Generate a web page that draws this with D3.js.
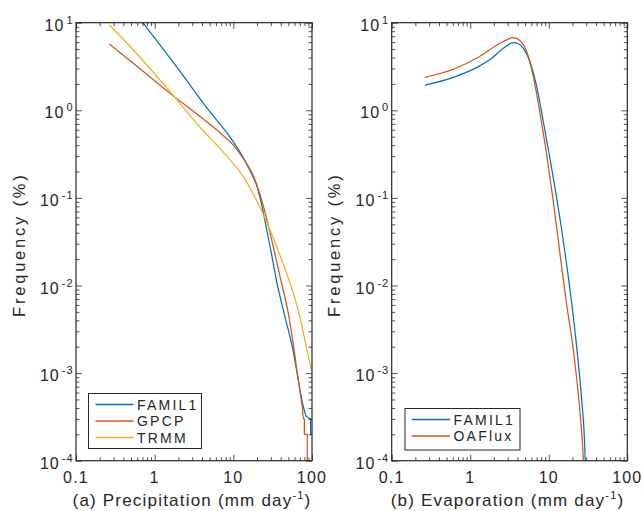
<!DOCTYPE html>
<html><head><meta charset="utf-8">
<script src="https://cdn.jsdelivr.net/npm/d3@7"></script>
<style>
html,body{margin:0;padding:0;background:#fff;}
svg{display:block;font-family:"Liberation Sans",Arial,Helvetica,sans-serif;}
</style></head>
<body>
<svg id="chart" width="642" height="511"></svg>
<script>
// ---------------- data ----------------
// (a) Precipitation
const precipFamilX = [0.27, 0.705, 2.0, 5.0, 9.0, 13, 17, 20, 22.5, 25.2, 30, 36, 45, 57.5, 66, 76, 85, 96, 96, 100];
const precipFamilY = [30, 10, 2.95, 0.97, 0.5, 0.3, 0.19, 0.135, 0.09, 0.055, 0.025, 0.0105, 0.0045, 0.0018, 0.0009, 0.00045, 0.00032, 0.0003, 0.0002, 0.0002];
const precipGpcpX = [0.266, 0.535, 1.57, 3.77, 7.0, 10, 13.4, 17.9, 21.8, 26.5, 32.2, 39.2, 50, 60.8, 66, 72, 75, 78, 80, 80, 87, 87];
const precipGpcpY = [5.7, 3.44, 1.56, 0.85, 0.54, 0.4, 0.28, 0.18, 0.11, 0.058, 0.0277, 0.0126, 0.0048, 0.00155, 0.00091, 0.00054, 0.00042, 0.0003, 0.0003, 0.0002, 0.0002, 0.00005];
const precipTrmmX = [0.266, 0.535, 1.57, 3.77, 8.24, 14, 18, 24, 35.6, 47.6, 52.5, 70, 85.7, 96.4, 100];
const precipTrmmY = [9.4, 4.88, 1.63, 0.64, 0.3, 0.165, 0.11, 0.065, 0.0277, 0.0138, 0.0107, 0.0044, 0.0019, 0.00118, 0.00105];
// (b) Evaporation
const evapFamilX = [0.266, 0.61, 1.27, 1.88, 2.64, 3.54, 4.1, 4.74, 5.77, 7.02, 8.45, 10.43, 12.74, 15.91, 19.36, 22.88, 26.27, 28.52, 29.4];
const evapFamilY = [1.94, 2.38, 3.15, 3.92, 5.1, 5.91, 5.75, 5.1, 3.59, 1.86, 0.775, 0.271, 0.0946, 0.0254, 0.00683, 0.00184, 0.00049, 0.00017, 0.000078];
const evapOafluxX = [0.266, 0.61, 1.27, 2.39, 3.0, 3.54, 4.3, 5.24, 6.36, 7.73, 9.36, 11.36, 13.7, 16.58, 20.53, 24.2, 26.7, 28.1];
const evapOafluxY = [2.38, 2.94, 4.03, 5.82, 6.45, 6.74, 6.23, 4.67, 2.42, 0.924, 0.323, 0.0946, 0.0254, 0.00683, 0.00184, 0.00049, 0.00017, 0.000078];

const xTickLabels = ["0.1", "1", "10", "100"];
const yTickExps = ["1", "0", "-1", "-2", "-3", "-4"];
const precipNames = ["FAMIL1", "GPCP", "TRMM"];
const evapNames = ["FAMIL1", "OAFlux"];
const xLabelA = "(a) Precipitation (mm day";
const xLabelB = "(b) Evaporation (mm day";
const yLabel = "Frequency (%)";

// ---------------- styling ----------------
const colors = ["#0072BD", "#D95319", "#EDB120"];
const axisColor = "#262626";
const svg = d3.select("#chart");
const defs = svg.append("defs");

const panels = [
  {x0: 76, x1: 312, label: xLabelA, names: precipNames,
   series: [[precipFamilX, precipFamilY], [precipGpcpX, precipGpcpY], [precipTrmmX, precipTrmmY]],
   legend: {x: 88.5, y: 393.5, w: 113, h: 55}},
  {x0: 391.7, x1: 627.3, label: xLabelB, names: evapNames,
   series: [[evapFamilX, evapFamilY], [evapOafluxX, evapOafluxY]],
   legend: {x: 405, y: 408.5, w: 115, h: 41.5}}
];
const y0 = 22.7, y1 = 460.7;

const majorX = [0.1, 1, 10, 100];
const minorX = [];
[0.1, 1, 10].forEach(b => { for (let k = 2; k <= 9; k++) minorX.push(b * k); });
const majorY = [10, 1, 0.1, 0.01, 0.001, 0.0001];
const minorY = [];
[0.0001, 0.001, 0.01, 0.1, 1].forEach(b => { for (let k = 2; k <= 9; k++) minorY.push(b * k); });

panels.forEach((p, pi) => {
  const x = d3.scaleLog().domain([0.1, 100]).range([p.x0, p.x1]);
  const y = d3.scaleLog().domain([1e-4, 10]).range([y1, y0]);
  const g = svg.append("g");

  const clipId = "clip" + pi;
  defs.append("clipPath").attr("id", clipId)
    .append("rect").attr("x", p.x0).attr("y", y0).attr("width", p.x1 - p.x0).attr("height", y1 - y0);

  // data lines: smooth part (strictly increasing x) + stepped tail
  const smooth = d3.line().x(d => x(d[0])).y(d => y(d[1])).curve(d3.curveMonotoneX);
  const straight = d3.line().x(d => x(d[0])).y(d => y(d[1]));
  const lg = g.append("g").attr("clip-path", `url(#${clipId})`);
  p.series.forEach((s, si) => {
    const pts = s[0].map((v, i) => [v, s[1][i]]);
    let cut = pts.length;
    for (let i = 1; i < pts.length; i++) if (pts[i][0] <= pts[i - 1][0]) { cut = i; break; }
    let d = smooth(pts.slice(0, cut));
    if (cut < pts.length) {
      const tail = straight(pts.slice(cut - 1));
      d += "L" + tail.slice(1);
    }
    lg.append("path").attr("d", d).attr("fill", "none")
      .attr("stroke", colors[si]).attr("stroke-width", 1.25).attr("stroke-linejoin", "round");
  });

  // ticks (inward on all sides)
  const addAxis = (axis, tr) => {
    const a = g.append("g").attr("transform", tr).call(axis);
    a.select(".domain").remove();
    a.selectAll("line").attr("stroke", axisColor).attr("stroke-width", 0.8);
    a.selectAll("text").remove();
  };
  addAxis(d3.axisBottom(x).tickValues(majorX).tickSize(-6).tickFormat(""), `translate(0,${y1})`);
  addAxis(d3.axisBottom(x).tickValues(minorX).tickSize(-3.5).tickFormat(""), `translate(0,${y1})`);
  addAxis(d3.axisTop(x).tickValues(majorX).tickSize(-6).tickFormat(""), `translate(0,${y0})`);
  addAxis(d3.axisTop(x).tickValues(minorX).tickSize(-3.5).tickFormat(""), `translate(0,${y0})`);
  addAxis(d3.axisLeft(y).tickValues(majorY).tickSize(-6).tickFormat(""), `translate(${p.x0},0)`);
  addAxis(d3.axisLeft(y).tickValues(minorY).tickSize(-3.5).tickFormat(""), `translate(${p.x0},0)`);
  addAxis(d3.axisRight(y).tickValues(majorY).tickSize(-6).tickFormat(""), `translate(${p.x1},0)`);
  addAxis(d3.axisRight(y).tickValues(minorY).tickSize(-3.5).tickFormat(""), `translate(${p.x1},0)`);

  // box
  g.append("rect").attr("x", p.x0).attr("y", y0).attr("width", p.x1 - p.x0).attr("height", y1 - y0)
    .attr("fill", "none").attr("stroke", axisColor).attr("stroke-width", 1.2);

  // x tick labels
  majorX.forEach((v, i) => {
    g.append("text").attr("x", x(v)).attr("y", y1 + 22.6).attr("text-anchor", "middle")
      .attr("font-size", 16).attr("letter-spacing", 1.2).attr("fill", axisColor).text(xTickLabels[i]);
  });
  // y tick labels
  majorY.forEach((v, i) => {
    const t = g.append("text").attr("x", p.x0 - 2.5).attr("y", y(v) + 8)
      .attr("text-anchor", "end").attr("font-size", 16).attr("letter-spacing", 1).attr("fill", axisColor);
    t.append("tspan").text("10");
    t.append("tspan").attr("dx", 2).attr("dy", -7).attr("font-size", 11).text(yTickExps[i]);
  });

  // x label
  const xl = g.append("text").attr("x", (p.x0 + p.x1) / 2 - 2).attr("y", 506)
    .attr("text-anchor", "middle").attr("font-size", 17).attr("letter-spacing", 1.2).attr("fill", axisColor);
  xl.append("tspan").text(p.label);
  xl.append("tspan").attr("dy", -7).attr("font-size", 11).text("-1");
  xl.append("tspan").attr("dy", 7).text(")");

  // y label
  g.append("text").attr("transform", `translate(${p.x0 - 51.5},${(y0 + y1) / 2 + 3}) rotate(-90)`)
    .attr("text-anchor", "middle").attr("font-size", 16.5).attr("letter-spacing", 2.8)
    .attr("fill", axisColor).text(yLabel);

  // legend
  const L = p.legend;
  const leg = g.append("g");
  leg.append("rect").attr("x", L.x).attr("y", L.y).attr("width", L.w).attr("height", L.h)
    .attr("fill", "#fff").attr("stroke", axisColor).attr("stroke-width", 1);
  p.names.forEach((n, i) => {
    const cy = L.y + 11 + i * 16.5;
    leg.append("line").attr("x1", L.x + 7).attr("x2", L.x + 45).attr("y1", cy).attr("y2", cy)
      .attr("stroke", colors[i]).attr("stroke-width", 1.4);
    leg.append("text").attr("x", L.x + 48.5).attr("y", cy + 5.2).attr("font-size", 14)
      .attr("letter-spacing", 2.2).attr("fill", axisColor).text(n);
  });
});
</script>
</body></html>
